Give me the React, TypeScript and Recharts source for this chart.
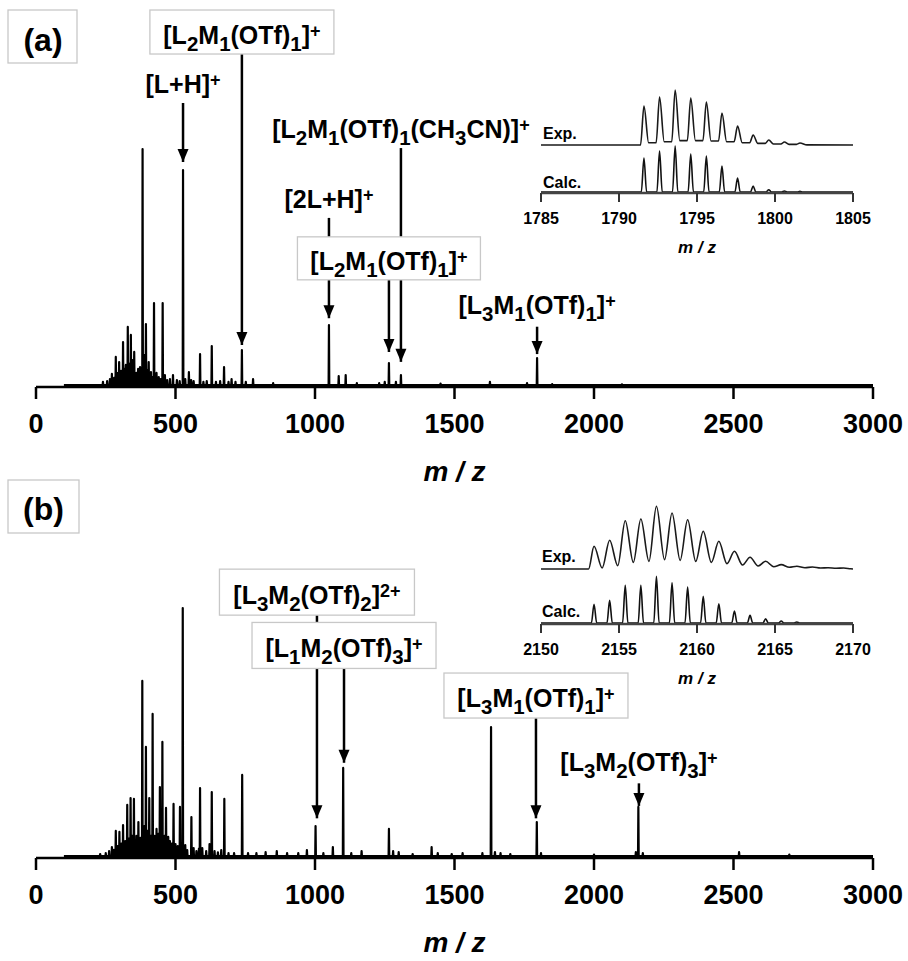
import React from 'react';
import { LineChart, Line, XAxis, YAxis, ReferenceLine, ReferenceDot } from 'recharts';

const FONT = '"Liberation Sans", Arial, Helvetica, sans-serif';

// ---------- data ----------
const mainTicks = [0, 500, 1000, 1500, 2000, 2500, 3000];

// (a) full scan: [m/z, relative intensity %]
const peaksA: [number, number][] = [
  [240, 1.3], [255, 1.7], [265, 2.5], [272, 4.7], [280, 3], [286, 11.9], [292, 5], [298, 9.7], [305, 6],
  [312, 18.2], [318, 7], [322, 8.5], [329, 24.6], [335, 9], [340, 21.2], [346, 10.6], [352, 14.0], [360, 5.1],
  [366, 6.8], [373, 7.6], [382, 100], [388, 12.7], [394, 25.8], [400, 6.4], [404, 9.7], [412, 5.5], [418, 3.4],
  [423, 34.7], [432, 5.1], [440, 3.4], [447, 2.5], [454, 34.7], [462, 4.2], [470, 2.1], [480, 2.5], [491, 4.2],
  [505, 2.1], [515, 1.7], [527, 91.1], [535, 2.5], [548, 5.5], [556, 2.1], [565, 1.7], [588, 13.1], [600, 1.3],
  [612, 1.7], [630, 16.5], [645, 1.3], [660, 1.7], [674, 7.6], [690, 1.3], [701, 2.5], [715, 1.3], [738, 14.8],
  [752, 1.3], [778, 2.5], [850, 0.8], [1050, 25.4], [1085, 3.8], [1110, 4.2], [1150, 0.8], [1230, 0.8],
  [1250, 1.3], [1265, 9.3], [1290, 1.3], [1308, 4.2], [1450, 0.6], [1627, 1.3], [1760, 0.8], [1796, 11.4],
  [1850, 0.4], [2100, 0.3],
];

// (b) full scan: [m/z, relative intensity %]
const peaksB: [number, number][] = [
  [230, 0.8], [250, 1.2], [262, 2], [272, 3.6], [279, 2.5], [286, 10.1], [292, 4], [299, 9.7], [306, 5],
  [312, 12.5], [320, 6], [327, 20.6], [333, 7], [339, 23.4], [345, 8.1], [351, 23], [360, 8.1], [367, 13.7],
  [374, 7.3], [381, 70.6], [388, 12.1], [394, 44], [400, 10.1], [406, 23.4], [412, 8.1], [418, 57.3], [425, 8.1],
  [432, 10.9], [438, 8.9], [444, 27.8], [453, 46], [460, 8.1], [466, 19.4], [474, 7.7], [480, 6], [487, 5],
  [493, 21], [500, 4.8], [508, 4], [516, 19.8], [520, 5], [526, 100], [535, 4.4], [542, 2.4], [557, 15.7],
  [565, 3.2], [575, 2], [584, 3], [588, 27.4], [596, 3.2], [610, 2], [622, 4.8], [630, 25.8], [640, 2],
  [652, 1.5], [664, 2.4], [675, 23], [690, 1.2], [710, 1.2], [739, 32.7], [760, 1.2], [790, 1.2], [823, 1.6],
  [863, 2], [900, 1.2], [940, 1.2], [971, 2.4], [1002, 12.1], [1030, 1.2], [1064, 3.6], [1101, 35.5],
  [1130, 1.2], [1167, 2], [1265, 10.9], [1280, 2], [1300, 1.6], [1350, 0.8], [1418, 3.6], [1440, 1.2],
  [1490, 0.8], [1529, 1.2], [1600, 1.2], [1631, 52], [1645, 1.6], [1665, 1.2], [1700, 0.8], [1795, 13.7],
  [1810, 1.2], [2000, 0.6], [2150, 1.6], [2159, 19.8], [2175, 1.2], [2520, 1.6], [2700, 0.6],
];

// inset (a): isotope pattern of [L3M1(OTf)1]+
const insetATicks = [1785, 1790, 1795, 1800, 1805];
const isoCentersA = [1791.6, 1792.6, 1793.6, 1794.6, 1795.6, 1796.6, 1797.6, 1798.6, 1799.6, 1800.6, 1801.6];
const expHeightsA = [70.9, 87.3, 100, 85.5, 78.2, 58.2, 34.5, 18.2, 9.1, 5.5, 3.6];
const expValleysA = [4.2, 6, 7.9, 7.9, 7.3, 6, 4.2, 3, 1.8, 1.2];
const calcHeightsA = [73.9, 89.1, 100, 82.6, 78.3, 56.5, 30.4, 13, 5, 2.2, 1.5];

// inset (b): isotope pattern of [L3M2(OTf)3]+
const insetBTicks = [2150, 2155, 2160, 2165, 2170];
const isoCentersB = [2153.4, 2154.4, 2155.4, 2156.4, 2157.4, 2158.4, 2159.4, 2160.4, 2161.4, 2162.4, 2163.4,
  2164.4, 2165.4, 2166.4, 2167.4, 2168.4, 2169.4];
const expHeightsB = [36.2, 45.8, 77, 79.7, 100, 89.3, 78.6, 60.1, 44.2, 28.2, 18.7, 12.3, 6.9, 4.3, 3.2, 2.1, 1.6];
const expValleysB = [1.6, 5.3, 10.6, 12.2, 14.9, 13.8, 12.2, 10.6, 8.5, 6.4, 4.8, 3.7, 2.7, 2.1, 1.6, 1.1];
const calcHeightsB = [40, 48.6, 80.7, 80.7, 100, 86.3, 77.1, 57.2, 41.3, 25.7, 16.5, 9.2, 4.3, 2.1];

// annotation labels: [text, 0 normal | 1 subscript | 2 superscript]
type Seg = [string, number];
const lblL2M1: Seg[] = [['[L', 0], ['2', 1], ['M', 0], ['1', 1], ['(OTf)', 0], ['1', 1], [']', 0], ['+', 2]];
const lblLH: Seg[] = [['[L+H]', 0], ['+', 2]];
const lblL2M1CN: Seg[] = [['[L', 0], ['2', 1], ['M', 0], ['1', 1], ['(OTf)', 0], ['1', 1], ['(CH', 0], ['3', 1], ['CN)]', 0], ['+', 2]];
const lbl2LH: Seg[] = [['[2L+H]', 0], ['+', 2]];
const lblL3M1: Seg[] = [['[L', 0], ['3', 1], ['M', 0], ['1', 1], ['(OTf)', 0], ['1', 1], [']', 0], ['+', 2]];
const lblL3M2b: Seg[] = [['[L', 0], ['3', 1], ['M', 0], ['2', 1], ['(OTf)', 0], ['2', 1], [']', 0], ['2+', 2]];
const lblL1M2: Seg[] = [['[L', 0], ['1', 1], ['M', 0], ['2', 1], ['(OTf)', 0], ['3', 1], [']', 0], ['+', 2]];
const lblL3M2: Seg[] = [['[L', 0], ['3', 1], ['M', 0], ['2', 1], ['(OTf)', 0], ['3', 1], [']', 0], ['+', 2]];

interface Annot { mz: number; labelY: number; tip: number; segments: [number, number][]; label: Seg[]; box?: [number, number]; }

const annotsA: Annot[] = [
  { mz: 738, labelY: 148.3, tip: 16.9, segments: [[140.3, 16.9]], label: lblL2M1, box: [184, 44] },
  { mz: 527, labelY: 127.5, tip: 94.5, segments: [[119.5, 94.5]], label: lblLH },
  { mz: 1308, labelY: 108.5, tip: 9.8, segments: [[100.4, 62.7], [44.5, 9.8]], label: lblL2M1CN },
  { mz: 1050, labelY: 79.0, tip: 28.3, segments: [[70.8, 62.7], [44.5, 28.3]], label: lbl2LH },
  { mz: 1265, labelY: 52.4, tip: 14.0, segments: [[44.5, 14.0]], label: lblL2M1, box: [183, 43] },
  { mz: 1796, labelY: 33.9, tip: 13.1, segments: [[24.7, 13.1]], label: lblL3M1 },
];

const annotsB: Annot[] = [
  { mz: 1007, labelY: 105.2, tip: 15.2, segments: [[97.2, 94.1], [75.7, 15.2]], label: lblL3M2b, box: [195, 46] },
  { mz: 1104, labelY: 83.7, tip: 37.6, segments: [[75.7, 37.6]], label: lblL1M2, box: [184, 46] },
  { mz: 1792, labelY: 63.5, tip: 15.2, segments: [[55.6, 15.2]], label: lblL3M1, box: [184, 45] },
  { mz: 2161, labelY: 37.8, tip: 20.2, segments: [[29.3, 20.2]], label: lblL3M2 },
];

// ---------- geometry helpers (drawing only) ----------
function sticks(peaks: [number, number][], start: number, end: number, hw: number) {
  const pts: { mz: number; v: number }[] = [{ mz: start, v: 0 }];
  peaks.forEach(([m, h]) => {
    pts.push({ mz: m - hw, v: 0 }, { mz: m, v: h }, { mz: m + hw, v: 0 });
  });
  pts.push({ mz: end, v: 0 });
  return pts;
}

function isoSticks(centers: number[], heights: number[], start: number, end: number, hw: number) {
  const pts: { mz: number; v: number }[] = [{ mz: start, v: 0 }];
  heights.forEach((h, i) => {
    const c = centers[i];
    pts.push({ mz: c - hw, v: 0 }, { mz: c, v: h }, { mz: c + hw, v: 0 });
  });
  pts.push({ mz: end, v: 0 });
  return pts;
}

function expProfile(centers: number[], heights: number[], valleys: number[], start: number, end: number, rise: number, gapPos: number[]) {
  const pts: { mz: number; v: number }[] = [{ mz: start, v: 0 }, { mz: centers[0] - rise, v: 0 }];
  heights.forEach((h, i) => {
    const c = centers[i];
    pts.push({ mz: c, v: h });
    if (i < valleys.length) {
      gapPos.forEach((g) => pts.push({ mz: c + g, v: valleys[i] }));
    }
  });
  const last = centers[heights.length - 1];
  pts.push({ mz: last + 0.45, v: 0.3 }, { mz: end, v: 0 });
  return pts;
}

const dataA = sticks(peaksA, 100, 3000, 1.2);
const dataB = sticks(peaksB, 100, 3000, 1.2);
const expDataA = expProfile(isoCentersA, expHeightsA, expValleysA, 1785, 1805, 0.22, [0.3, 0.78]);
const calcDataA = isoSticks(isoCentersA, calcHeightsA, 1785, 1805, 0.17);
const expDataB = expProfile(isoCentersB, expHeightsB, expValleysB, 2150, 2170, 0.35, [0.52]);
const calcDataB = isoSticks(isoCentersB, calcHeightsB, 2150, 2170, 0.17);

// ---------- rendering pieces ----------
const makeTick = (size: number, dy: number) => (props: any) => {
  const { x, y, payload } = props;
  return (
    <text x={x} y={y} dy={dy} textAnchor="middle" fontFamily={FONT} fontWeight="bold" fontSize={size} fill="#000">
      {payload.value}
    </text>
  );
};

const makeTitle = (size: number, dy: number) => (props: any) => {
  const vb = props.viewBox || {};
  const x = (vb.x ?? 0) + (vb.width ?? 0) / 2;
  const y = (vb.y ?? 0) + dy;
  return (
    <text x={x} y={y} textAnchor="middle" fontFamily={FONT} fontWeight="bold" fontStyle="italic" fontSize={size} fill="#000">
      m / z
    </text>
  );
};

const S = 25;
function Formula({ cx, cy, segs, box }: { cx: number; cy: number; segs: Seg[]; box?: [number, number] }) {
  let shift = 0;
  const parts = segs.map(([t, k], i) => {
    const target = k === 1 ? S * 0.27 : k === 2 ? -S * 0.28 : 0;
    const dy = target - shift;
    shift = target;
    const fs = k === 1 ? S * 0.82 : k === 2 ? S * 0.72 : S;
    return (
      <tspan key={i} dy={dy} fontSize={fs}>
        {t}
      </tspan>
    );
  });
  return (
    <g>
      {box && (
        <rect x={cx - box[0] / 2} y={cy - 3 - box[1] / 2} width={box[0]} height={box[1]} fill="#fff" stroke="#c8c8c8" strokeWidth={1.3} />
      )}
      <text x={cx} y={cy + S * 0.358} textAnchor="middle" fontFamily={FONT} fontWeight="bold" fontSize={S} fill="#000">
        {parts}
      </text>
    </g>
  );
}

function ArrowHead({ cx, cy }: { cx: number; cy: number }) {
  return <polygon points={`${cx - 5.5},${cy - 13} ${cx + 5.5},${cy - 13} ${cx},${cy}`} fill="#000" />;
}

function renderAnnots(list: Annot[]) {
  const out: React.ReactNode[] = [];
  list.forEach((a, i) => {
    a.segments.forEach(([y1, y2], j) => {
      out.push(
        <ReferenceLine key={`l${i}-${j}`} segment={[{ x: a.mz, y: y1 }, { x: a.mz, y: y2 }]} stroke="#000" strokeWidth={2.5} ifOverflow="visible" />
      );
    });
    out.push(
      <ReferenceDot key={`h${i}`} x={a.mz} y={a.tip} ifOverflow="visible" shape={(p: any) => <ArrowHead cx={p.cx} cy={p.cy} />} />
    );
    out.push(
      <ReferenceDot key={`t${i}`} x={a.mz} y={a.labelY} ifOverflow="visible"
        shape={(p: any) => <Formula cx={p.cx} cy={p.cy} segs={a.label} box={a.box} />} />
    );
  });
  return out;
}

function MainPanel({ data, annots, yDomain, height }: { data: any[]; annots: Annot[]; yDomain: [number, number]; height: number }) {
  return (
    <LineChart width={908} height={height} data={data} margin={{ top: 10, right: 35, left: 36, bottom: 3 }}>
      <XAxis dataKey="mz" type="number" domain={[0, 3000]} ticks={mainTicks} interval={0} allowDataOverflow
        height={100} tickSize={12} axisLine={{ stroke: '#000', strokeWidth: 2.5 }} tickLine={{ stroke: '#000', strokeWidth: 2.5 }}
        tick={makeTick(27, 31.7)} label={{ content: makeTitle(28, 94) }} />
      <YAxis hide type="number" domain={yDomain} allowDataOverflow />
      <Line dataKey="v" type="linear" stroke="#000" strokeWidth={2.2} strokeLinejoin="round" dot={false} activeDot={false} isAnimationActive={false} />
      {renderAnnots(annots)}
    </LineChart>
  );
}

function InsetExp({ data, domain, yDomain, height }: { data: any[]; domain: [number, number]; yDomain: [number, number]; height: number }) {
  return (
    <LineChart width={372} height={height} data={data} margin={{ top: 0, right: 30, left: 30, bottom: 0 }}>
      <XAxis dataKey="mz" type="number" domain={domain} hide allowDataOverflow />
      <YAxis hide type="number" domain={yDomain} allowDataOverflow />
      <Line dataKey="v" type="monotoneX" stroke="#1a1a1a" strokeWidth={1.6} dot={false} activeDot={false} isAnimationActive={false} />
    </LineChart>
  );
}

function InsetCalc({ data, domain, ticks, yDomain, height }: { data: any[]; domain: [number, number]; ticks: number[]; yDomain: [number, number]; height: number }) {
  return (
    <LineChart width={372} height={height} data={data} margin={{ top: 0, right: 30, left: 30, bottom: 0 }}>
      <XAxis dataKey="mz" type="number" domain={domain} ticks={ticks} interval={0} allowDataOverflow height={67}
        tickSize={9} axisLine={{ stroke: '#444', strokeWidth: 2.5 }} tickLine={{ stroke: '#333', strokeWidth: 2 }}
        tick={makeTick(16, 19.7)} label={{ content: makeTitle(17, 60) }} />
      <YAxis hide type="number" domain={yDomain} allowDataOverflow />
      <Line dataKey="v" type="monotoneX" stroke="#111" strokeWidth={1.6} dot={false} activeDot={false} isAnimationActive={false} />
    </LineChart>
  );
}

export default function App() {
  const abs = (left: number, top: number): React.CSSProperties => ({ position: 'absolute', left, top });
  return (
    <div style={{ position: 'absolute', left: 0, top: 0, width: 908, height: 961, background: '#fff', overflow: 'hidden' }}>
      <div style={abs(0, 0)}>
        <MainPanel data={dataA} annots={annotsA} yDomain={[-0.847, 158.9]} height={490} />
      </div>
      <div style={abs(0, 480)}>
        <MainPanel data={dataB} annots={annotsB} yDomain={[-0.806, 147.6]} height={481} />
      </div>
      <div style={abs(511, 80)}>
        <InsetExp data={expDataA} domain={[1785, 1805]} yDomain={[-9.1, 118.2]} height={70} />
      </div>
      <div style={abs(511, 140)}>
        <InsetCalc data={calcDataA} domain={[1785, 1805]} ticks={insetATicks} yDomain={[-2.17, 113]} height={120} />
      </div>
      <div style={abs(511, 495)}>
        <InsetExp data={expDataB} domain={[2150, 2170]} yDomain={[-9.57, 118]} height={80} />
      </div>
      <div style={abs(511, 560)}>
        <InsetCalc data={calcDataB} domain={[2150, 2170]} ticks={insetBTicks} yDomain={[-2.14, 134.9]} height={131} />
      </div>
      <svg width={908} height={961} style={{ position: 'absolute', left: 0, top: 0, pointerEvents: 'none' }}>
        <rect x={8} y={10} width={69} height={53} fill="none" stroke="#c8c8c8" strokeWidth={1.3} />
        <text x={43} y={50.8} textAnchor="middle" fontFamily={FONT} fontWeight="bold" fontSize={32}>(a)</text>
        <rect x={8} y={480} width={71} height={53} fill="none" stroke="#c8c8c8" strokeWidth={1.3} />
        <text x={43.5} y={520.3} textAnchor="middle" fontFamily={FONT} fontWeight="bold" fontSize={32}>(b)</text>
        <text x={543} y={139} fontFamily={FONT} fontWeight="bold" fontSize={16}>Exp.</text>
        <text x={543} y={188} fontFamily={FONT} fontWeight="bold" fontSize={16}>Calc.</text>
        <text x={542} y={562} fontFamily={FONT} fontWeight="bold" fontSize={16}>Exp.</text>
        <text x={542} y={617} fontFamily={FONT} fontWeight="bold" fontSize={16}>Calc.</text>
      </svg>
    </div>
  );
}
